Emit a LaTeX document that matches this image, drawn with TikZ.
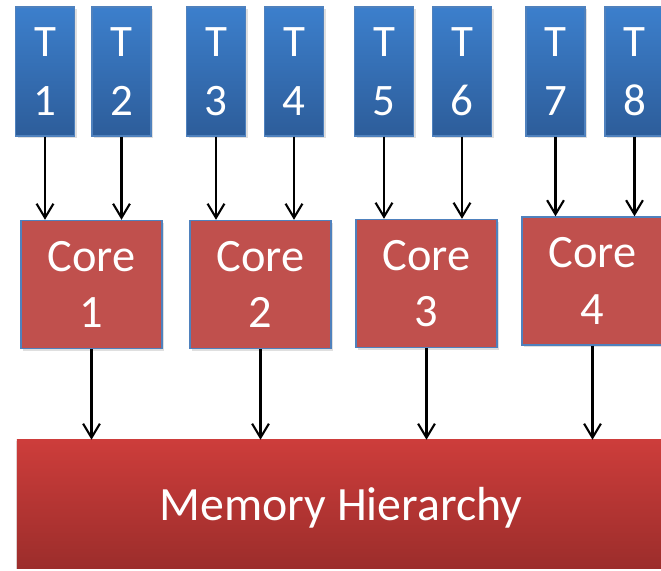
\documentclass[tikz,border=0pt]{standalone}
\usepackage{fontspec}
\setmainfont{Carlito}
\usepackage{tikz}
\usetikzlibrary{shapes,arrows,arrows.meta,positioning,shadows,calc}
\definecolor{threadtop}{RGB}{60,127,204}
\definecolor{threadbot}{RGB}{45,93,154}
\definecolor{threadedge}{RGB}{79,129,189}
\definecolor{corefill}{RGB}{192,80,77}
\definecolor{memtop}{RGB}{205,61,59}
\definecolor{membot}{RGB}{156,45,43}
\tikzset{
    thread/.style={rectangle, draw=threadedge, line width=1pt, top color=threadtop, bottom color=threadbot, text=white, minimum width=1.475cm, minimum height=3.225cm, align=center, inner sep=0pt, font=\fontsize{32}{42}\selectfont, drop shadow={shadow xshift=1.5pt, shadow yshift=-1.5pt, opacity=0.25}},
    core/.style={rectangle, draw=threadedge, line width=1pt, fill=corefill, text=white, minimum width=3.525cm, minimum height=3.2cm, align=center, inner sep=0pt, font=\fontsize{33}{40}\selectfont, drop shadow={shadow xshift=1.5pt, shadow yshift=-1.5pt, opacity=0.25}},
    memory/.style={rectangle, top color=memtop, bottom color=membot, text=white, minimum width=16.2cm, minimum height=3.2cm, inner sep=0pt, text depth=0pt, font=\fontsize{34}{40}\selectfont, drop shadow={shadow xshift=-1pt, shadow yshift=-1pt, opacity=0.2}},
    line/.style={draw, line width=1.5pt, -{Straight Barb[length=3.5mm, width=4.2mm, line width=1.5pt]}}
}
\begin{document}
\begin{tikzpicture}[x=0.025cm, y=-0.025cm]
    \useasboundingbox (0,0) rectangle (661,570);

    % Threads
    \node [thread] (t1) at (45,71.5) {T\\1};
    \node [thread] (t2) at (121.5,71.5) {T\\2};
    \node [thread] (t3) at (216,71.5) {T\\3};
    \node [thread] (t4) at (294,71.5) {T\\4};
    \node [thread] (t5) at (384,71.5) {T\\5};
    \node [thread] (t6) at (462,71.5) {T\\6};
    \node [thread] (t7) at (555.5,71.5) {T\\7};
    \node [thread] (t8) at (634.5,71.5) {T\\8};

    % Cores
    \node [core] (core1) at (91.5,284.5) {Core\\1};
    \node [core] (core2) at (260.5,284.5) {Core\\2};
    \node [core] (core3) at (426.5,283.5) {Core\\3};
    \node [core] (core4) at (592.5,281) {Core\\4};

    % Shared memory
    \node [memory] (mem) at (341,504) {Memory Hierarchy};

    % Threads to cores
    \path [line] (t1) -- (t1.south |- core1.north);
    \path [line] (t2) -- (t2.south |- core1.north);
    \path [line] (t3) -- (t3.south |- core2.north);
    \path [line] (t4) -- (t4.south |- core2.north);
    \path [line] (t5) -- (t5.south |- core3.north);
    \path [line] (t6) -- (t6.south |- core3.north);
    \path [line] (t7) -- (t7.south |- core4.north);
    \path [line] (t8) -- (t8.south |- core4.north);

    % Cores to memory
    \path [line] (core1) -- (core1.south |- mem.north);
    \path [line] (core2) -- (core2.south |- mem.north);
    \path [line] (core3) -- (core3.south |- mem.north);
    \path [line] (core4) -- (core4.south |- mem.north);
\end{tikzpicture}
\end{document}
